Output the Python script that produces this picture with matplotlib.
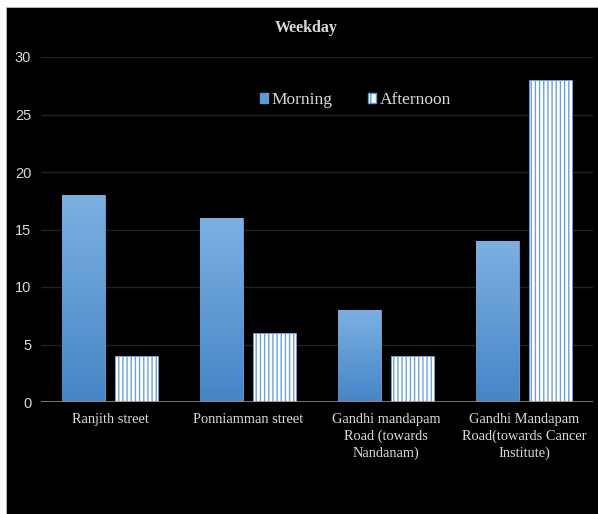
import numpy as np
import matplotlib
matplotlib.use("Agg")
import matplotlib.pyplot as plt
from matplotlib.patches import Rectangle, Patch

# --- DATA ---
categories = ["Ranjith street", "Ponniamman street",
              "Gandhi mandapam\nRoad (towards\nNandanam)",
              "Gandhi Mandapam\nRoad(towards Cancer\nInstitute)"]
morning = [18, 16, 8, 14]
afternoon = [4, 6, 4, 28]
yticks = [0, 5, 10, 15, 20, 25, 30]

# --- STYLE ---
BLUE = "#5b9bd5"
TXT = "#d9d9d9"
SERIF = ["Liberation Serif", "DejaVu Serif"]

fig = plt.figure(figsize=(5.98, 5.14), dpi=100, facecolor="white")
# black chart area with a thin white margin at top/left
fig.patches.append(Rectangle((6 / 598, 0), 1, 1 - 7 / 514, transform=fig.transFigure,
                             facecolor="black", edgecolor="#bfbfbf", linewidth=0.6, zorder=-10))

ax = fig.add_axes([41 / 598, 112 / 514, 552 / 598, 345 / 514])
ax.set_facecolor("black")
ax.patch.set_alpha(0)

x = np.arange(len(categories))
w = 0.31
off = 0.192

# gradient image for morning bars
grad = np.linspace(0, 1, 256).reshape(-1, 1)
cmap = matplotlib.colors.LinearSegmentedColormap.from_list("g", ["#4685c6", "#7cb0e2"])

mbars = ax.bar(x - off, morning, w, color=BLUE, edgecolor="#6fa6dc", linewidth=0.6, zorder=3)
for b in mbars:
    bx, by = b.get_x(), b.get_y()
    bw, bh = b.get_width(), b.get_height()
    im = ax.imshow(grad, extent=[bx, bx + bw, by, by + bh], origin="lower",
                   cmap=cmap, aspect="auto", zorder=3.5, interpolation="bicubic")
    im.set_clip_path(b)

plt.rcParams["hatch.linewidth"] = 1.0
ax.bar(x + off, afternoon, w, color="white", edgecolor="#6aa3da", hatch="||||",
       linewidth=0.6, zorder=3)

ax.set_xlim(-0.5, len(categories) - 0.5)
ax.set_ylim(0, 30)
ax.set_yticks(yticks)
ax.set_yticklabels([str(t) for t in yticks], color=TXT, fontsize=10.5,
                   family=["Liberation Sans", "DejaVu Sans"])
ax.set_xticks(x)
ax.set_xticklabels(categories, color=TXT, fontsize=10.4, family=SERIF, linespacing=1.33)
ax.tick_params(axis="both", length=0)
ax.tick_params(axis="y", pad=7)
ax.tick_params(axis="x", pad=8)

ax.grid(axis="y", color="#222222", linewidth=1.0, zorder=0)
ax.axhline(0, color="#8c8c8c", linewidth=1.2, zorder=4)
for s in ax.spines.values():
    s.set_visible(False)

fig.text(306 / 598, 1 - 28 / 514, "Weekday", ha="center", va="center", color=TXT,
         fontsize=11.5, fontweight="bold", family=SERIF)

handles = [Patch(facecolor=BLUE, edgecolor=BLUE, label="Morning"),
           Patch(facecolor="white", edgecolor=BLUE, hatch="||", label="Afternoon")]
leg = ax.legend(handles=handles, loc="center", bbox_to_anchor=(355.5 / 598, 1 - 100 / 514),
                bbox_transform=fig.transFigure, ncol=2, frameon=False,
                prop={"family": SERIF, "size": 12.5}, handlelength=0.46, handleheight=0.55,
                handletextpad=0.25, columnspacing=2.0)
for t in leg.get_texts():
    t.set_color(TXT)

fig.savefig("out.png", dpi=100, facecolor="white")
